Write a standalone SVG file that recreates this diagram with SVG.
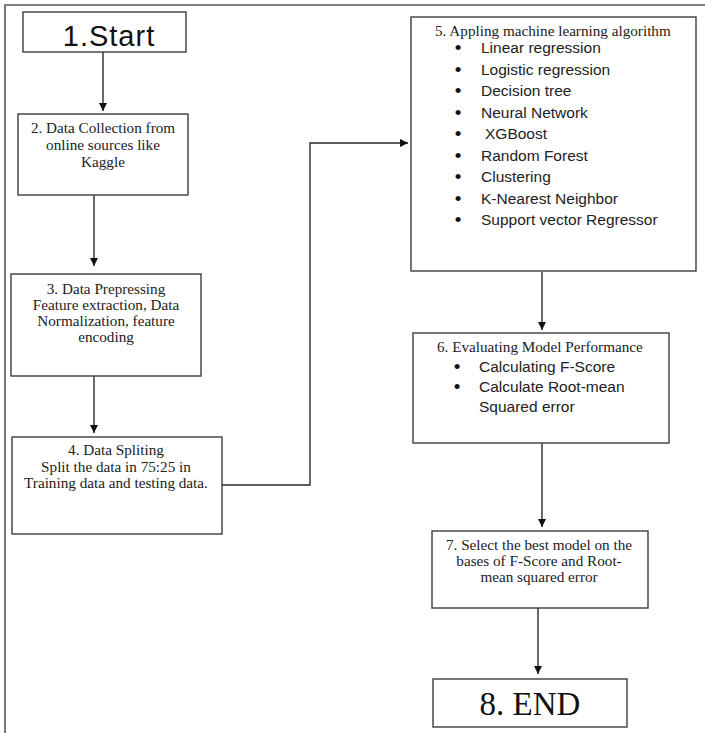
<svg xmlns="http://www.w3.org/2000/svg" width="705" height="733" viewBox="0 0 705 733">
<defs>
<marker id="ah" viewBox="0 0 10 10" refX="10" refY="5" markerWidth="8" markerHeight="8" markerUnits="userSpaceOnUse" orient="auto">
<path d="M0,0 L10,5 L0,10 z" fill="#111"/>
</marker>
<style>
.box{fill:#fff;stroke:#3c3c3c;stroke-width:1.4}
.edge{fill:none;stroke:#2a2a2a;stroke-width:1.4}
.sr{font-family:"Liberation Serif","Times New Roman",serif;font-size:15.2px;fill:#222}
.ss{font-family:"Liberation Sans",Arial,sans-serif;font-size:15.5px;fill:#222}
.c{text-anchor:middle}
.bul{font-family:"Liberation Sans",Arial,sans-serif;font-size:19px;fill:#111;text-anchor:middle}
</style>
</defs>
<rect width="705" height="733" fill="#fff"/>
<polyline points="5,733 5,5 705,5" fill="none" stroke="#555" stroke-width="1.6"/>

<g id="connectors">
<line class="edge" x1="103" y1="52" x2="103" y2="111" marker-end="url(#ah)"/>
<line class="edge" x1="94" y1="195" x2="94" y2="266" marker-end="url(#ah)"/>
<line class="edge" x1="94" y1="376" x2="94" y2="433" marker-end="url(#ah)"/>
<polyline class="edge" points="222,485 310,485 310,143 408,143" marker-end="url(#ah)"/>
<line class="edge" x1="542" y1="272" x2="542" y2="330" marker-end="url(#ah)"/>
<line class="edge" x1="542" y1="443" x2="542" y2="527" marker-end="url(#ah)"/>
<line class="edge" x1="538" y1="608" x2="538" y2="674" marker-end="url(#ah)"/>
</g>

<g id="n1">
<rect class="box" x="23" y="12" width="163" height="40"/>
<text x="109" y="46" class="c" font-family="'Liberation Sans',Arial,sans-serif" font-size="29" letter-spacing="1" fill="#111">1.Start</text>
</g>

<g id="n2">
<rect class="box" x="18" y="114" width="170" height="81"/>
<text class="sr c" x="103" y="133">2. Data Collection from</text>
<text class="sr c" x="103" y="150">online sources like</text>
<text class="sr c" x="103" y="167">Kaggle</text>
</g>

<g id="n3">
<rect class="box" x="11" y="274" width="190" height="102"/>
<text class="sr c" x="106" y="294">3. Data Prepressing</text>
<text class="sr c" x="106" y="310">Feature extraction, Data</text>
<text class="sr c" x="106" y="326">Normalization, feature</text>
<text class="sr c" x="106" y="342">encoding</text>
</g>

<g id="n4">
<rect class="box" x="12" y="437" width="210" height="97"/>
<text class="sr c" x="116" y="455">4. Data Spliting</text>
<text class="sr c" x="116" y="471.5">Split the data in 75:25 in</text>
<text class="sr c" x="116" y="488">Training data and testing data.</text>
</g>

<g id="n5">
<rect class="box" x="411" y="17" width="285" height="254"/>
<text class="sr" x="435" y="36">5. Appling machine learning algorithm</text>
<text class="bul" x="458" y="54">•</text><text class="ss" x="481" y="53">Linear regression</text>
<text class="bul" x="458" y="75.5">•</text><text class="ss" x="481" y="74.5">Logistic regression</text>
<text class="bul" x="458" y="97">•</text><text class="ss" x="481" y="96">Decision tree</text>
<text class="bul" x="458" y="118.5">•</text><text class="ss" x="481" y="117.5">Neural Network</text>
<text class="bul" x="458" y="140">•</text><text class="ss" x="485" y="139">XGBoost</text>
<text class="bul" x="458" y="161.5">•</text><text class="ss" x="481" y="160.5">Random Forest</text>
<text class="bul" x="458" y="183">•</text><text class="ss" x="481" y="182">Clustering</text>
<text class="bul" x="458" y="204.5">•</text><text class="ss" x="481" y="203.5">K-Nearest Neighbor</text>
<text class="bul" x="458" y="226">•</text><text class="ss" x="481" y="225">Support vector Regressor</text>
</g>

<g id="n6">
<rect class="box" x="413" y="333" width="256" height="110"/>
<text class="sr" x="437" y="352">6. Evaluating Model Performance</text>
<text class="bul" x="457" y="373">•</text><text class="ss" x="479" y="372">Calculating F-Score</text>
<text class="bul" x="457" y="393">•</text><text class="ss" x="479" y="392">Calculate Root-mean</text>
<text class="ss" x="479" y="412">Squared error</text>
</g>

<g id="n7">
<rect class="box" x="432" y="531" width="216" height="77"/>
<text class="sr c" x="539" y="550">7. Select the best model on the</text>
<text class="sr c" x="539" y="566">bases of F-Score and Root-</text>
<text class="sr c" x="539" y="582">mean squared error</text>
</g>

<g id="n8">
<rect class="box" x="433" y="679" width="194" height="48"/>
<text x="530" y="715" class="c" font-family="'Liberation Serif','Times New Roman',serif" font-size="33" fill="#111">8. END</text>
</g>
</svg>
